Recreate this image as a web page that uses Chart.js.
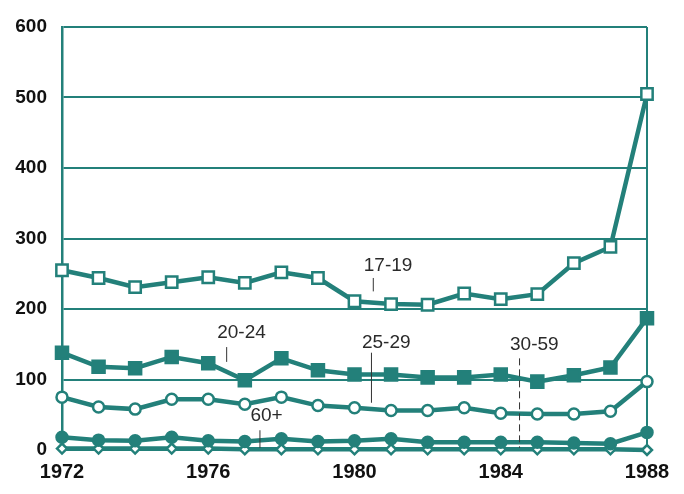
<!DOCTYPE html>
<html>
<head>
<meta charset="utf-8">
<script src="https://cdn.jsdelivr.net/npm/chart.js@4/dist/chart.umd.min.js"></script>
<style>
  html, body { margin: 0; padding: 0; background: #ffffff; }
  #wrap { width: 684px; height: 494px; position: relative; }
</style>
</head>
<body>
<div id="wrap"><canvas id="c" width="684" height="494"></canvas></div>
<script>
// ---- data ----
const years = ['1972','1973','1974','1975','1976','1977','1978','1979','1980','1981','1982','1983','1984','1985','1986','1987','1988'];
const xTickLabels = ['1972','1976','1980','1984','1988'];
const yTicks = [0, 100, 200, 300, 400, 500, 600];

const age17_19 = [255, 244, 231, 238, 245, 237, 252, 244, 211, 207, 206, 222, 214, 221, 265, 288, 505];
const age20_24 = [138, 118, 116, 132, 123, 99, 130, 113, 107, 107, 103, 103, 107, 97, 106, 117, 187];
const age25_29 = [75, 61, 58, 72, 72, 65, 75, 63, 60, 56, 56, 60, 52, 51, 51, 55, 97];
const age30_59 = [18, 14, 13, 18, 13, 12, 16, 12, 13, 16, 11, 11, 11, 11, 10, 9, 25];
const age60plus = [2, 2, 2, 2, 2, 1, 1, 1, 1, 1, 1, 1, 1, 1, 1, 1, 0];

const seriesNames = ['17-19', '20-24', '25-29', '30-59', '60+'];

// series label callouts: text, tick x (year index), text y value, leader line from/to (values)
const calloutText = ['17-19', '20-24', '25-29', '30-59', '60+'];
const calloutX = [8.5, 4.49, 8.45, 12.5, 5.4];
const calloutTextY = [262, 166, 152, 149, 48];
const calloutLineFrom = [244, 146, 138, 130, 28];
const calloutLineTo = [225, 125, 67, 3, 3];
const calloutDash = [false, false, false, true, false];

// ---- styling ----
const TEAL = '#23807a';

function ds(label, data, style, filled, radius) {
  return {
    label: label,
    data: data,
    borderColor: TEAL,
    borderWidth: 4.5,
    pointStyle: style,
    pointRadius: radius,
    pointBorderWidth: 2.5,
    pointBorderColor: TEAL,
    pointBackgroundColor: filled ? TEAL : '#ffffff',
    tension: 0,
    clip: false
  };
}

const calloutPlugin = {
  id: 'callouts',
  afterDatasetsDraw(chart) {
    const ctx = chart.ctx;
    const xs = chart.scales.x, ys = chart.scales.y;
    ctx.save();
    for (let i = 0; i < calloutText.length; i++) {
      const px = xs.getPixelForValue(calloutX[i]);
      const ty = ys.getPixelForValue(calloutTextY[i]);
      const y1 = ys.getPixelForValue(calloutLineFrom[i]);
      const y2 = ys.getPixelForValue(calloutLineTo[i]);
      ctx.strokeStyle = '#333333';
      ctx.lineWidth = 1;
      ctx.setLineDash(calloutDash[i] ? [7, 4] : []);
      ctx.beginPath();
      ctx.moveTo(px + 0.5, y1);
      ctx.lineTo(px + 0.5, y2);
      ctx.stroke();
      ctx.setLineDash([]);
      ctx.font = '19px "Liberation Sans", Arial, sans-serif';
      ctx.fillStyle = '#2a2a2a';
      ctx.textAlign = 'left';
      ctx.textBaseline = 'middle';
      ctx.fillText(calloutText[i], px - 9, ty);
    }
    ctx.restore();
  }
};

new Chart(document.getElementById('c'), {
  type: 'line',
  data: {
    labels: years,
    datasets: [
      ds(seriesNames[0], age17_19, 'rect', false, 8),
      ds(seriesNames[1], age20_24, 'rect', true, 8.5),
      ds(seriesNames[2], age25_29, 'circle', false, 5.5),
      ds(seriesNames[3], age30_59, 'circle', true, 5.5),
      ds(seriesNames[4], age60plus, 'rectRot', false, 5)
    ]
  },
  options: {
    responsive: false,
    animation: false,
    devicePixelRatio: 1,
    layout: { padding: { left: 0, top: 27, right: 37, bottom: 0 } },
    plugins: { legend: { display: false }, tooltip: { enabled: false } },
    scales: {
      x: {
        type: 'category',
        offset: false,
        afterFit(s) { s.height = 44; },
        border: { display: false },
        grid: {
          drawTicks: false,
          color: (c) => (c.index === years.length - 1 ? TEAL : 'rgba(0,0,0,0)'),
          lineWidth: 2
        },
        ticks: {
          autoSkip: false,
          maxRotation: 0,
          padding: 10,
          color: '#111111',
          font: { family: '"Liberation Sans", Arial, sans-serif', size: 20, weight: 'bold' },
          callback: function (v, i) {
            const lab = years[i];
            return xTickLabels.includes(lab) ? lab : '';
          }
        }
      },
      y: {
        min: 0,
        max: 600,
        afterFit(s) { s.width = 62; },
        afterBuildTicks(s) { s.ticks = yTicks.map(v => ({ value: v })); },
        border: { display: true, color: TEAL, width: 2.5 },
        grid: { drawTicks: false, color: TEAL, lineWidth: 2 },
        ticks: {
          padding: 15,
          color: '#111111',
          font: { family: '"Liberation Sans", Arial, sans-serif', size: 19, weight: 'bold' }
        }
      }
    }
  },
  plugins: [calloutPlugin]
});
</script>
</body>
</html>
